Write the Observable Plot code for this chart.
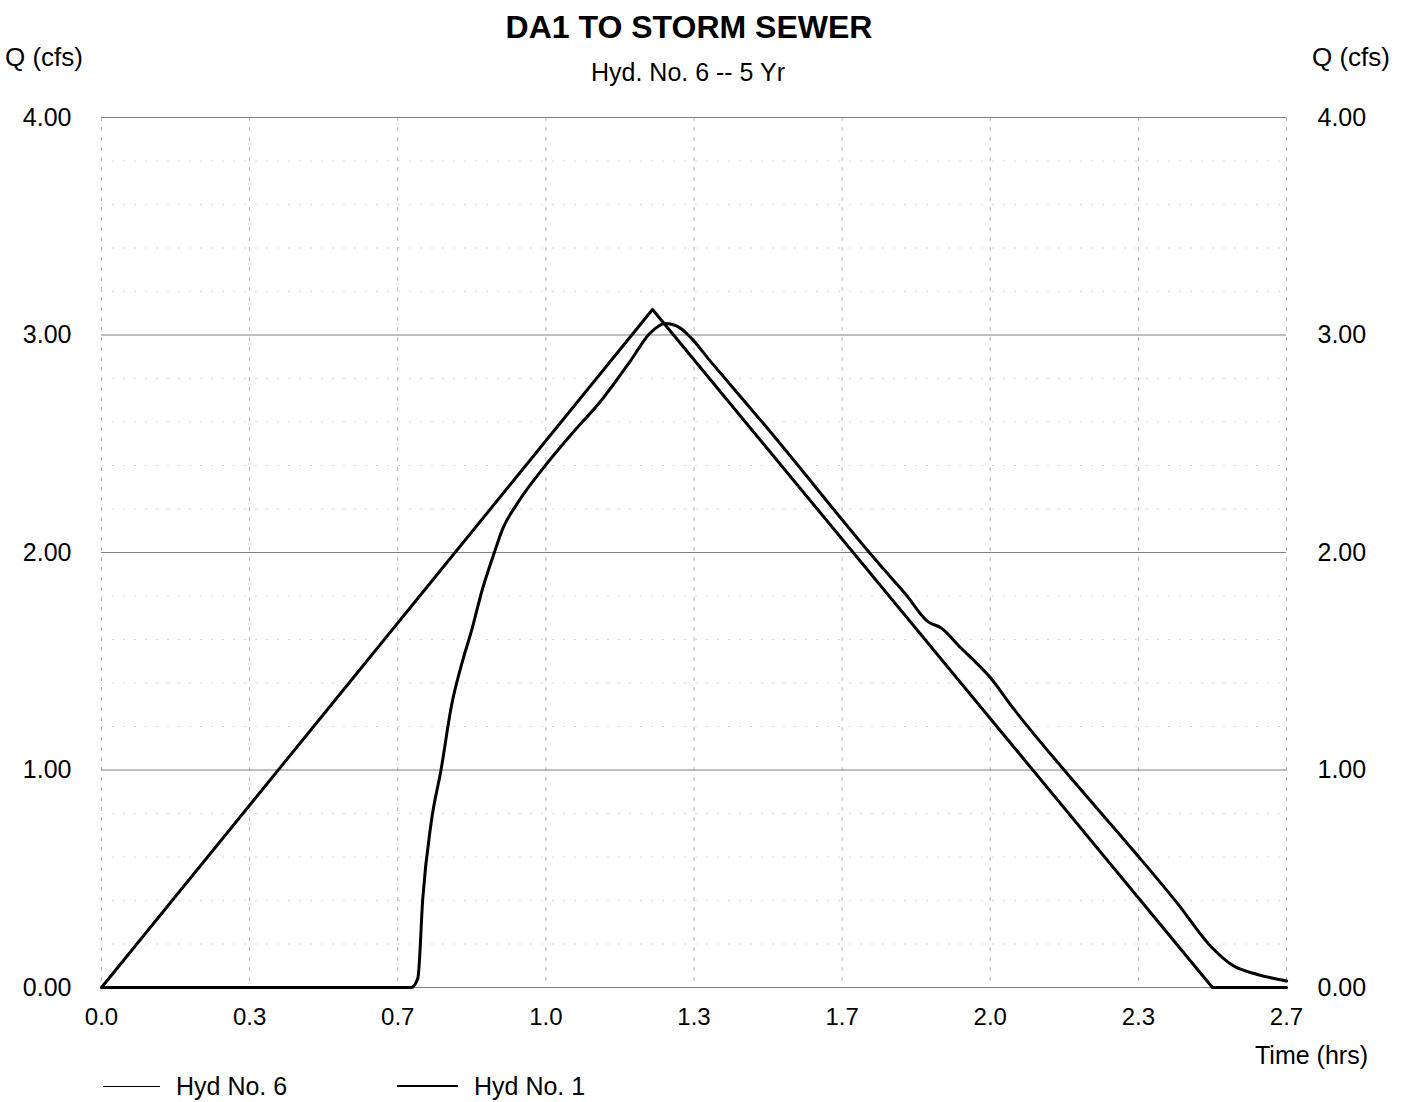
<!DOCTYPE html>
<html>
<head>
<meta charset="utf-8">
<script src="https://cdn.jsdelivr.net/npm/d3@7"></script>
<script src="https://cdn.jsdelivr.net/npm/@observablehq/plot@0.6"></script>
<style>
  html, body { margin: 0; padding: 0; background: #fff; }
  body { width: 1409px; height: 1102px; overflow: hidden; font-family: "Liberation Sans", Arial, sans-serif; color: #000; }
  .box { position: relative; width: 1409px; }
  .abs { position: absolute; white-space: nowrap; }
  #title { font-weight: bold; font-size: 32px; line-height: 32px; top: 11px; left: 689px; transform: translateX(-50%); }
  #subtitle { font-size: 25px; line-height: 25px; top: 60px; left: 688px; transform: translateX(-50%); }
  .qlab { font-size: 26px; line-height: 26px; top: 44px; }
  .leg-line { position: absolute; height: 0; border-top: 2px solid #000; }
  .leg-text { font-size: 25px; line-height: 25px; }
  svg { display: block; }
</style>
</head>
<body>
<div class="box" id="header" style="height:90px">
  <div class="abs" id="title">DA1 TO STORM SEWER</div>
  <div class="abs" id="subtitle">Hyd. No. 6 -- 5 Yr</div>
  <div class="abs qlab" style="left:5px">Q (cfs)</div>
  <div class="abs qlab" style="left:1312px">Q (cfs)</div>
</div>
<div id="chart"></div>
<div class="box" id="footer" style="height:67px">
  <div class="abs leg-text" style="left:1255px; top:8px; font-size:25px">Time (hrs)</div>
  <div class="leg-line" style="left:103px; width:57px; top:51px; border-top-width:1.5px"></div>
  <div class="abs leg-text" style="left:176px; top:39px">Hyd No. 6</div>
  <div class="leg-line" style="left:397px; width:61px; top:50px; border-top-width:2.5px"></div>
  <div class="abs leg-text" style="left:474px; top:39px">Hyd No. 1</div>
</div>
<script>
// Hyd No. 6 (routed hydrograph): time (hrs) and flow (cfs)
const hyd6Time = [0, 0.697, 0.712, 0.723, 0.742, 0.764, 0.788, 0.811, 0.834, 0.857, 0.884, 0.903, 0.934, 0.995, 1.056, 1.125, 1.190, 1.235, 1.269, 1.300, 1.325, 1.370, 1.499, 1.753, 1.809, 1.861, 1.888, 1.933, 2.000, 2.052, 2.162, 2.322, 2.420, 2.496, 2.547, 2.601, 2.667];
const hyd6Flow = [0, 0, 0.044, 0.41, 0.76, 1.00, 1.30, 1.49, 1.65, 1.83, 2.00, 2.11, 2.22, 2.39, 2.54, 2.70, 2.88, 3.01, 3.053, 3.035, 2.99, 2.88, 2.570, 1.940, 1.81, 1.68, 1.655, 1.563, 1.425, 1.283, 1.01, 0.63, 0.39, 0.19, 0.10, 0.06, 0.03];

// Hyd No. 1 (triangular inflow hydrograph)
const hyd1Time = [0, 1.240, 2.500, 2.667];
const hyd1Flow = [0, 3.117, 0, 0];

// Axis ticks and labels
const xTickValues = [0, 0.33333, 0.66667, 1, 1.33333, 1.66667, 2, 2.33333, 2.66667];
const xTickLabels = ["0.0", "0.3", "0.7", "1.0", "1.3", "1.7", "2.0", "2.3", "2.7"];
const yMajor = [0, 1, 2, 3, 4];
const yTickLabels = ["0.00", "1.00", "2.00", "3.00", "4.00"];
const yMinor = [0.2, 0.4, 0.6, 0.8, 1.2, 1.4, 1.6, 1.8, 2.2, 2.4, 2.6, 2.8, 3.2, 3.4, 3.6, 3.8];

const hyd6 = hyd6Time.map((t, i) => ({t, q: hyd6Flow[i]}));
const hyd1 = hyd1Time.map((t, i) => ({t, q: hyd1Flow[i]}));

const xFmt = d => xTickLabels[xTickValues.findIndex(v => Math.abs(v - d) < 1e-3)];
const yFmt = d => yTickLabels[yMajor.findIndex(v => Math.abs(v - d) < 1e-6)];

const chart = Plot.plot({
  width: 1409,
  height: 945,
  marginTop: 27,
  marginLeft: 101,
  marginRight: 123,
  marginBottom: 48,
  style: {fontFamily: "Liberation Sans, Arial, sans-serif", color: "#000", background: "#fff"},
  x: {domain: [0, 2.66667]},
  y: {domain: [0, 4]},
  marks: [
    Plot.ruleY(yMinor, {stroke: "#d9d9d9", strokeWidth: 1, strokeDasharray: "2,9"}),
    Plot.ruleX(xTickValues, {stroke: "#b8b8b8", strokeWidth: 1, strokeDasharray: "4,6"}),
    Plot.ruleY(yMajor, {stroke: "#808080", strokeWidth: 1.2}),
    Plot.line(hyd1, {x: "t", y: "q", stroke: "#000", strokeWidth: 3, curve: "linear"}),
    Plot.line(hyd6, {x: "t", y: "q", stroke: "#000", strokeWidth: 3, curve: "monotone-x"}),
    Plot.axisX({ticks: xTickValues, tickFormat: xFmt, tickSize: 0, tickPadding: 20, fontSize: 24, label: null}),
    Plot.axisY({anchor: "left", ticks: yMajor, tickFormat: yFmt, tickSize: 0, tickPadding: 30, fontSize: 25, label: null}),
    Plot.axisY({anchor: "right", ticks: yMajor, tickFormat: yFmt, tickSize: 0, tickPadding: 31, fontSize: 25, label: null})
  ]
});
document.getElementById("chart").appendChild(chart);
</script>
</body>
</html>
